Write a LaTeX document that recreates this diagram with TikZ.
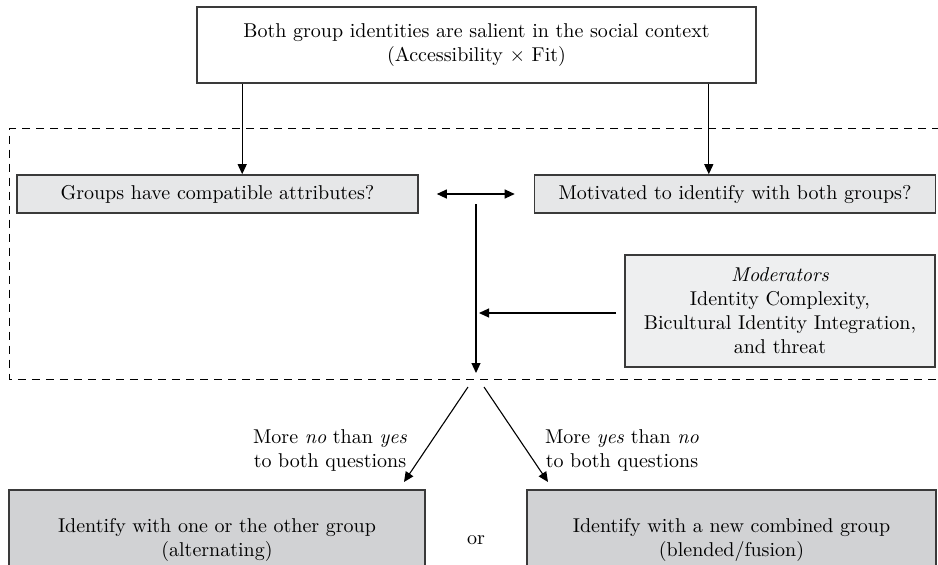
\documentclass[tikz,border=0pt]{standalone}
\usetikzlibrary{arrows.meta,calc}
\definecolor{lightbox}{HTML}{E6E7E8}
\definecolor{modbox}{HTML}{EEEFF0}
\definecolor{darkbox}{HTML}{D1D2D4}
\definecolor{edge}{HTML}{3A3A3A}
\begin{document}
\begin{tikzpicture}[x=0.5pt,y=-0.5pt,
  every node/.style={font=\fontsize{10}{12}\selectfont, align=center, inner sep=0pt},
  boxstyle/.style={draw=edge, line width=0.8pt, minimum width=#1*0.5pt},
  topbox/.style={boxstyle=559, minimum height=38pt, fill=white},
  qbox/.style={boxstyle=401, minimum height=19pt, fill=lightbox},
  modstyle/.style={boxstyle=310, minimum height=56pt, fill=modbox},
  outbox/.style={boxstyle=#1, minimum height=50pt, fill=darkbox},
  arr/.style={-{Triangle[length=5pt,width=4.5pt]}, line width=0.55pt},
  darr/.style={{Triangle[length=5pt,width=4.5pt]}-{Triangle[length=5pt,width=4.5pt]}, line width=0.55pt},
  dashbox/.style={dashed, dash pattern=on 4pt off 3pt, line width=0.5pt}
]
\useasboundingbox (0,0) rectangle (938,564);
\begin{scope}
\clip (0,0) rectangle (938,564);
% dashed region
\draw[dashbox] (940,128) -- (9.5,128) -- (9.5,379) -- (940,379);

\node[topbox] (top) at (476.5,45) {Both group identities are salient in the social context\\(Accessibility $\times$ Fit)};
\node[qbox] (lq) at (217.5,194) {Groups have compatible attributes?};
\node[qbox] (rq) at (735,194) {Motivated to identify with both groups?};
\node[modstyle] (mod) at (780,311) {\textit{Moderators}\\Identity Complexity,\\Bicultural Identity Integration,\\and threat};
\node[outbox=416] (lo) at (217,540) {Identify with one or the other group\\(alternating)};
\node[outbox=409] (ro) at (731.5,540) {Identify with a new combined group\\(blended/fusion)};
\node (or) at (476,540) {or};
\node (lab1) at (330,450) {More \textit{no} than \textit{yes}\\to both questions};
\node (lab2) at (622,450) {More \textit{yes} than \textit{no}\\to both questions};

\coordinate (vtop) at (476,204);
\coordinate (vbot) at (476,373);
\coordinate (mtip) at (479,313);
\coordinate (d1s) at (468,387);
\coordinate (d1e) at (404,482);
\coordinate (d2s) at (484,387);
\coordinate (d2e) at (548,482);

\draw[arr] ([xshift=23pt]top.south west) -- ([xshift=23pt]top.south west |- lq.north);
\draw[arr] ([xshift=-24pt]top.south east) -- ([xshift=-24pt]top.south east |- rq.north);
\draw[darr] ([xshift=9pt]lq.east) -- ([xshift=-9.5pt]rq.west);
\draw[arr] (vtop) -- (vbot);
\draw[arr] ([xshift=-4pt]mod.west |- mtip) -- (mtip);
\draw[arr] (d1s) -- (d1e);
\draw[arr] (d2s) -- (d2e);
\end{scope}
\end{tikzpicture}
\end{document}
